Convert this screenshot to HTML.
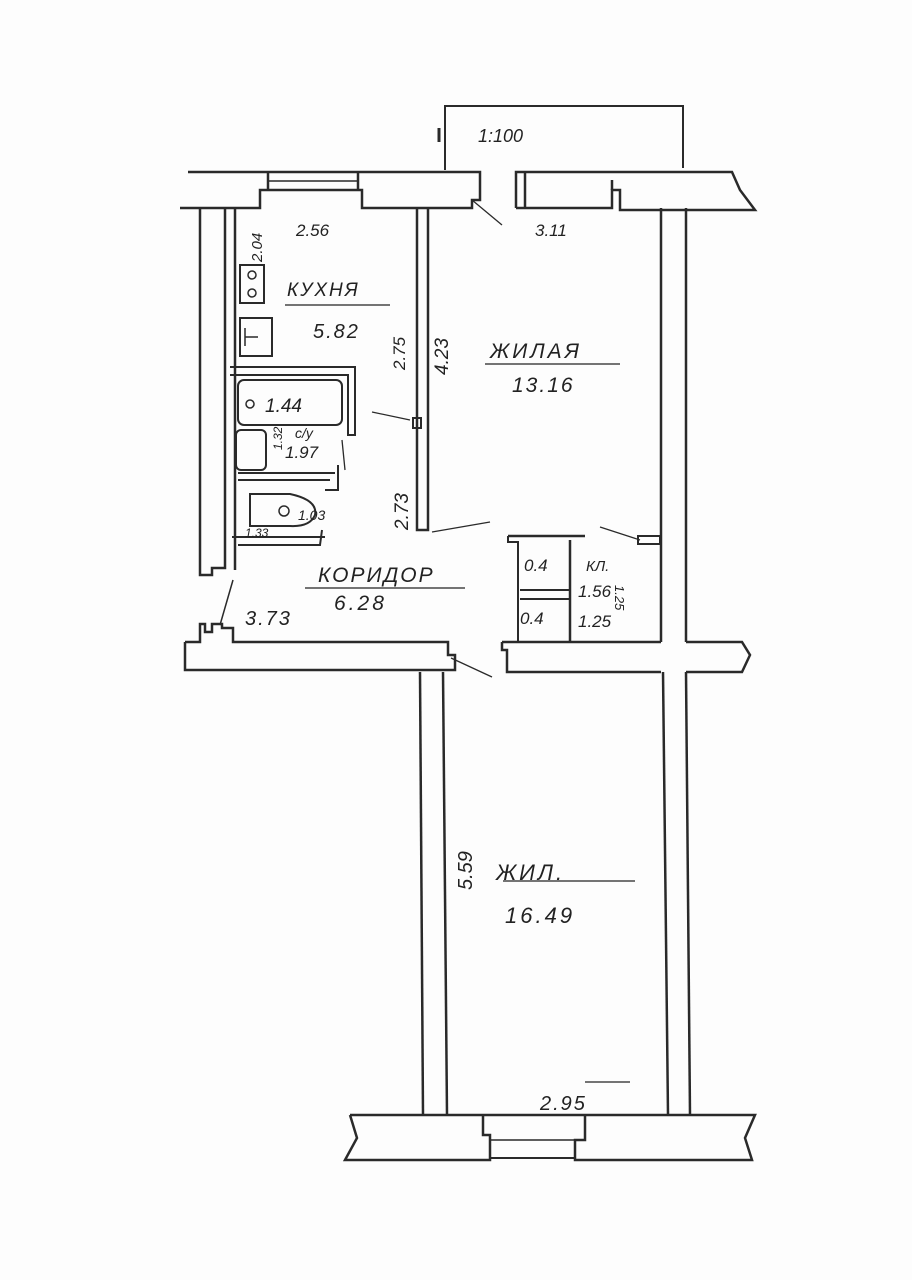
<!DOCTYPE html>
<html><head><meta charset="utf-8"><style>
html,body{margin:0;padding:0;background:#fff;}
svg{display:block;}
text{font-family:"Liberation Sans","DejaVu Sans",sans-serif;font-style:italic;fill:#222;}
</style></head><body>
<svg width="912" height="1280" viewBox="0 0 912 1280" xmlns="http://www.w3.org/2000/svg">
<rect width="912" height="1280" fill="#fdfdfd"/>
<g fill="none" stroke="#2a2a2a" stroke-width="2.5" stroke-linejoin="miter">
<polyline points="445,170 445,106 683,106 683,168" stroke-width="2"/>
<line x1="439" y1="128" x2="439" y2="142" stroke-width="3"/>
<polyline points="188,172 480,172 480,200 472,200 472,208 362,208 362,190 260,190 260,208 180,208"/>
<line x1="268" y1="172" x2="268" y2="190"/><line x1="358" y1="172" x2="358" y2="190"/>
<line x1="268" y1="181" x2="358" y2="181" stroke-width="1.5"/>
<polyline points="516,208 516,172 732,172 740,190 755,210 620,210 620,190 612,190 612,208 516,208"/>
<line x1="525" y1="172" x2="525" y2="208"/>
<line x1="612" y1="180" x2="612" y2="190"/>
<line x1="472" y1="200" x2="502" y2="225" stroke-width="1.3"/>
<line x1="451" y1="658" x2="492" y2="677" stroke-width="1.3"/>
<line x1="372" y1="412" x2="410" y2="420" stroke-width="1.3"/>
<line x1="432" y1="532" x2="490" y2="522" stroke-width="1.3"/>
<line x1="600" y1="527" x2="640" y2="540" stroke-width="1.3"/>
<line x1="233" y1="580" x2="220" y2="625" stroke-width="1.5"/>
<polyline points="200,208 200,575 212,575 212,568 225,568 225,208"/>
<line x1="235" y1="208" x2="235" y2="570"/>
<polyline points="417,208 417,530 428,530 428,208"/>
<rect x="413" y="418" width="8" height="10" stroke-width="2"/>
<line x1="661" y1="208" x2="661" y2="642"/><line x1="686" y1="208" x2="686" y2="642"/>
<line x1="663" y1="672" x2="668" y2="1115"/><line x1="686" y1="672" x2="690" y2="1115"/>
<polyline points="185,642 185,670 455,670 455,655 448,655 448,642 233,642 233,628 222,628 222,624 212,624 212,632 205,632 205,624 200,624 200,642 185,642"/>
<path d="M502,642 L661,642 M686,642 L742,642 L750,655 L742,672 L686,672 M661,672 L507,672 L507,650 L502,650 L502,642"/>
<polyline points="508,536 508,542 518,542 518,642" stroke-width="2"/>
<line x1="508" y1="536" x2="585" y2="536"/>
<line x1="570" y1="540" x2="570" y2="642"/>
<line x1="520" y1="590" x2="570" y2="590" stroke-width="2"/>
<line x1="520" y1="599" x2="570" y2="599" stroke-width="2"/>
<rect x="638" y="536" width="22" height="8" stroke-width="2"/>
<line x1="420" y1="672" x2="423" y2="1115"/><line x1="443" y1="672" x2="447" y2="1115"/>
<path d="M350,1115 L755,1115 L745,1138 L752,1160 L575,1160 L575,1140 L585,1140 L585,1115 M483,1115 L483,1135 L490,1135 L490,1160 L345,1160 L357,1138 L350,1115"/>
<line x1="490" y1="1140" x2="575" y2="1140" stroke-width="1.5"/>
<line x1="490" y1="1158" x2="575" y2="1158" stroke-width="2"/>
<rect x="240" y="265" width="24" height="38" stroke-width="2"/>
<circle cx="252" cy="275" r="4" stroke-width="1.5"/><circle cx="252" cy="293" r="4" stroke-width="1.5"/>
<rect x="240" y="318" width="32" height="38" stroke-width="2"/>
<path d="M245,328 L245,346 M245,337 L258,337" stroke-width="1.5"/>
<polyline points="230,367 355,367 355,435 348,435 348,375 230,375" stroke-width="2"/>
<rect x="238" y="380" width="104" height="45" rx="6" stroke-width="2"/>
<circle cx="250" cy="404" r="4" stroke-width="1.5"/>
<rect x="236" y="430" width="30" height="40" rx="5" stroke-width="2"/>
<line x1="238" y1="473" x2="335" y2="473" stroke-width="2"/>
<line x1="238" y1="480" x2="330" y2="480" stroke-width="2"/>
<polyline points="338,465 338,490 325,490" stroke-width="2"/>
<path d="M250,494 L290,494 Q318,500 315,515 Q310,527 290,526 L250,526 Z" stroke-width="2"/>
<circle cx="284" cy="511" r="5" stroke-width="1.5"/>
<line x1="232" y1="537" x2="325" y2="537" stroke-width="2"/>
<polyline points="238,545 320,545 322,530" stroke-width="2"/>
<line x1="342" y1="440" x2="345" y2="470" stroke-width="1.3"/>
</g>
<text x="478" y="142" font-style="normal" font-size="18">1:100</text>
<text x="296" y="236" font-size="17">2.56</text>
<text x="535" y="236" font-size="17">3.11</text>
<text x="262" y="262" font-size="15" transform="rotate(-90 262 262)">2.04</text>
<text x="287" y="296" font-size="19" letter-spacing="2">КУХНЯ</text>
<line x1="285" y1="305" x2="390" y2="305" stroke="#222" stroke-width="1.2"/>
<text x="313" y="338" font-size="20" letter-spacing="2">5.82</text>
<text x="405" y="370" font-size="17" transform="rotate(-90 405 370)">2.75</text>
<text x="448" y="375" font-size="19" transform="rotate(-90 448 375)">4.23</text>
<text x="490" y="358" font-size="21" letter-spacing="3">ЖИЛАЯ</text>
<line x1="485" y1="364" x2="620" y2="364" stroke="#222" stroke-width="1.2"/>
<text x="512" y="392" font-size="21" letter-spacing="2">13.16</text>
<text x="265" y="412" font-size="19">1.44</text>
<text x="295" y="438" font-size="14">с/у</text>
<text x="285" y="458" font-size="17">1.97</text>
<text x="282" y="450" font-size="12" transform="rotate(-90 282 450)">1.32</text>
<text x="298" y="520" font-size="14">1.03</text>
<text x="245" y="537" font-size="12">1.33</text>
<text x="408" y="530" font-size="19" transform="rotate(-90 408 530)">2.73</text>
<text x="318" y="582" font-size="21" letter-spacing="2">КОРИДОР</text>
<line x1="305" y1="588" x2="465" y2="588" stroke="#222" stroke-width="1.2"/>
<text x="334" y="610" font-size="21" letter-spacing="3">6.28</text>
<text x="245" y="625" font-size="20" letter-spacing="2">3.73</text>
<text x="524" y="571" font-size="17">0.4</text>
<text x="520" y="624" font-size="17">0.4</text>
<text x="586" y="571" font-size="15">КЛ.</text>
<text x="578" y="597" font-size="17">1.56</text>
<text x="578" y="627" font-size="17">1.25</text>
<text x="660" y="600" font-size="13" transform="rotate(90 645 570)">1.25</text>
<text x="472" y="890" font-size="20" transform="rotate(-90 472 890)">5.59</text>
<text x="496" y="880" font-size="22" letter-spacing="3">ЖИЛ.</text>
<line x1="503" y1="881" x2="635" y2="881" stroke="#222" stroke-width="1.2"/>
<text x="505" y="923" font-size="22" letter-spacing="3">16.49</text>
<text x="540" y="1110" font-size="20" letter-spacing="2">2.95</text>
<line x1="585" y1="1082" x2="630" y2="1082" stroke="#222" stroke-width="1.2"/>
</svg>
</body></html>
